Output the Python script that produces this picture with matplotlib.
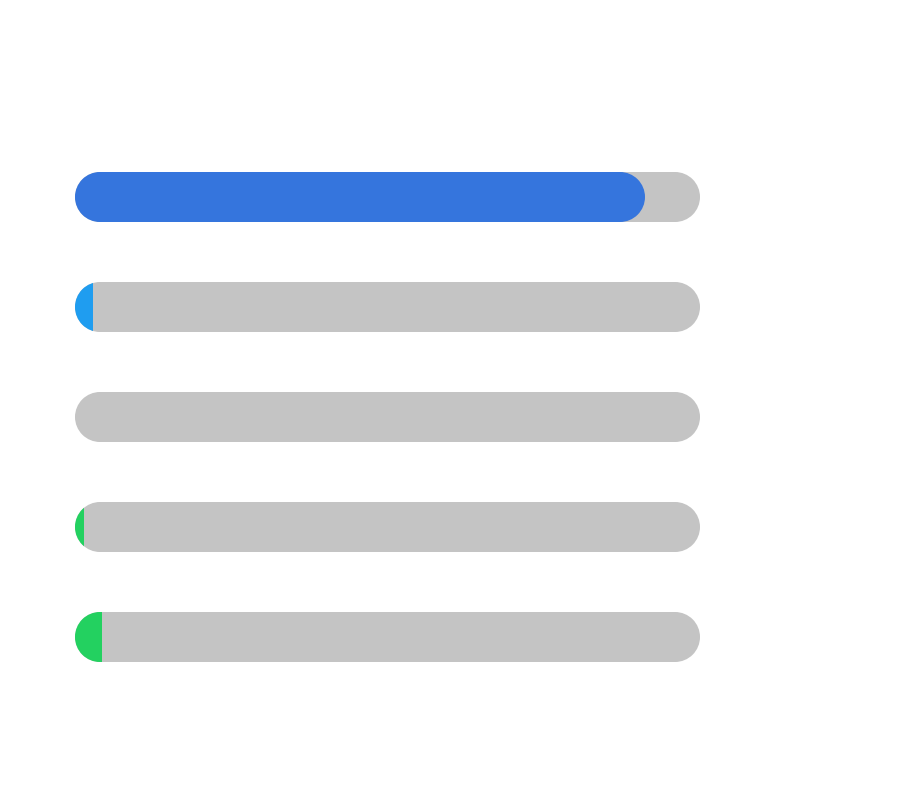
import matplotlib
matplotlib.use("Agg")
import numpy as np
import matplotlib.pyplot as plt
from matplotlib.path import Path
from matplotlib.patches import PathPatch, Rectangle

categories = ["A", "B", "C", "D", "E"]
values = [91.2, 2.9, 0.0, 1.4, 4.3]
max_value = 100
colors = ["#3575DD", "#1F9DF0", "#23D160", "#23D160", "#23D160"]
track_color = "#C4C4C4"

W, H = 900, 800
fig = plt.figure(figsize=(W / 100, H / 100), dpi=100)
fig.patch.set_facecolor("white")
ax = fig.add_axes([75 / W, 1 - 692 / H, 625 / W, 550 / H])
ax.set_xlim(0, max_value)
ax.set_ylim(len(categories) - 0.5, -0.5)
ax.axis("off")

px_x = 625 / max_value
px_y = 550 / len(categories)
bar_h = 50 / px_y
rx = 25 / px_x
ry = bar_h / 2


def stadium(x0, x1, yc):
    left = Path.arc(90, 270)
    right = Path.arc(-90, 90)
    lv = left.vertices * [rx, ry] + [x0 + rx, yc]
    rv = right.vertices * [rx, ry] + [x1 - rx, yc]
    verts = np.vstack([rv, lv, rv[:1]])
    codes = np.concatenate([right.codes, left.codes, [Path.CLOSEPOLY]])
    codes[len(right.codes)] = Path.LINETO
    return Path(verts, codes)


for i, (cat, v, c) in enumerate(zip(categories, values, colors)):
    track = PathPatch(stadium(0, max_value, i), facecolor=track_color,
                      edgecolor="none", zorder=1)
    ax.add_patch(track)
    if v <= 0:
        continue
    if v >= 2 * rx:
        fill = PathPatch(stadium(0, v, i), facecolor=c, edgecolor="none", zorder=2)
        ax.add_patch(fill)
    else:
        fill = Rectangle((0, i - ry), v, bar_h, facecolor=c, edgecolor="none", zorder=2)
        ax.add_patch(fill)
        fill.set_clip_path(track)

fig.savefig("out.png", dpi=100, facecolor="white")
